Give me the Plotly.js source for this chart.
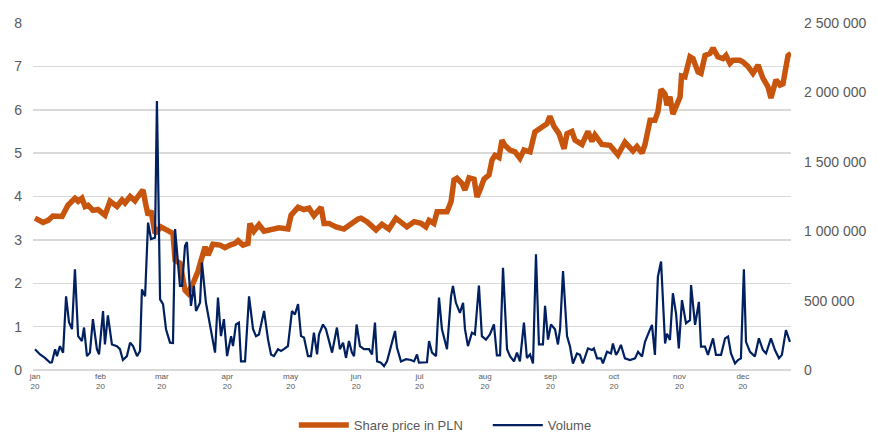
<!DOCTYPE html>
<html>
<head>
<meta charset="utf-8">
<script src="https://cdn.plot.ly/plotly-3.0.1.min.js"></script>
<style>html,body{margin:0;padding:0;background:#fff;}#chart{width:877px;height:432px;}</style>
</head>
<body>
<div id="chart"></div>
<script>
// Day of year 2020 (0 = 1 Jan) for each price reading
const priceDays = [0,3.8,6.2,8.5,12.8,15.6,18.9,20.4,22.2,23.7,25.1,27.4,29.8,33.1,35.5,38.8,41.2,42.6,45,47.3,48.7,51.1,52.5,53.5,54.9,56.8,59.6,62.9,65.3,66.3,68.6,71,72.4,74.8,77.1,78.6,80.5,81.9,84.2,87.6,89.9,92.3,94.7,96.1,98.4,100.8,101.7,103.6,106,108.4,112.6,115.5,119.7,121.2,124.5,127.3,129.7,132,135.4,136.8,139.1,142.5,146.2,150.5,152.9,154.3,157.1,161.4,164.2,167.5,170.8,176,179.4,182.7,185,186.5,188.8,190.3,195,196.9,198.3,199.7,202.1,203.5,205.4,207.8,209.2,210.6,212.5,214.9,216.3,217.7,219.6,221,222.4,224.8,227.2,229.5,231.4,234.3,236.6,240,242.3,243.7,245.6,248,250.4,251.8,254.1,255.6,258.9,261.7,263.6,265,268.3,272.1,275.9,279.2,283,284.9,287.3,288.7,291.1,293.4,294.8,296.3,298.2,299.1,300.5,301.9,303.8,305.3,306,307.6,310,311.4,313.8,315.2,317.1,319.5,320.9,323.2,325.6,327,328.9,330.3,333.6,335.1,337.4,339.8,342.2,344.5,346.9,348.3,350.7,352.6,354,356.4,357.8];
const sharePrice = [3.50,3.40,3.45,3.55,3.54,3.80,3.96,3.89,3.96,3.77,3.80,3.68,3.70,3.57,3.89,3.77,3.92,3.85,4.00,3.90,4.00,4.15,3.80,3.57,3.67,3.15,3.30,3.23,3.15,2.53,2.46,1.84,1.77,2.00,2.27,2.53,2.84,2.65,2.90,2.88,2.82,2.88,2.92,2.98,2.88,2.92,3.38,3.20,3.35,3.20,3.25,3.28,3.25,3.57,3.75,3.70,3.73,3.56,3.75,3.38,3.38,3.30,3.25,3.42,3.48,3.50,3.42,3.23,3.36,3.25,3.50,3.30,3.42,3.38,3.30,3.45,3.38,3.65,3.65,3.88,4.38,4.42,4.30,4.15,4.43,4.40,3.99,4.15,4.40,4.50,4.84,4.95,4.90,5.30,5.18,5.07,5.03,4.88,5.07,5.03,5.49,5.60,5.68,5.85,5.62,5.45,5.10,5.45,5.50,5.30,5.20,5.50,5.27,5.42,5.20,5.18,4.96,5.25,5.05,5.15,5.00,5.20,5.76,5.76,5.95,6.47,6.36,6.10,6.30,5.90,6.10,6.30,6.78,6.76,7.22,7.18,6.87,6.84,7.25,7.30,7.42,7.22,7.18,7.25,7.07,7.14,7.14,7.10,7.00,6.84,7.03,6.73,6.53,6.27,6.69,6.57,6.60,7.25,7.30];

// Day of year 2020 for each volume reading
const volumeDays = [0,2.4,4.7,7.1,8,9.5,10.4,11.8,13.3,14.7,16.1,17.5,18.9,20.4,22.2,23.2,24.6,26,27.4,29.3,30.3,32.2,33.1,34.5,36.4,38.8,40.2,41.6,43.5,45,46.4,48.3,49.7,50.6,52.1,53.5,54.9,56.8,57.7,59.2,60.6,62,63.9,65.3,66.3,68.6,69.6,71,71.9,73.8,75.2,76.2,78.1,79,80.9,83.3,85.2,86.6,88,89.4,90.9,92.8,93.7,95.1,96.5,97.5,99.4,101.3,103.2,104.6,106,108.4,110.3,111.7,113.1,115,116.4,117.8,119.7,121.6,123,124.5,125.9,127.3,129.2,130.6,132,133.5,134.4,136.3,137.7,140.6,142.9,144.3,145.8,147.2,148.6,150,151,152.2,153.8,155.7,158.1,159.5,160.9,161.9,163.7,165.2,166.6,168.5,170.4,171.3,173.2,175.6,177.9,179.4,180.8,181.7,184.1,185.5,186.5,187.9,189.8,191.2,192.6,195,196.9,197.8,199.2,201.1,202.6,203.5,204.9,206.8,208.2,210.1,211.5,213.4,215.3,217.2,218.6,220.1,221.5,223.4,224.8,226.7,228.1,229.5,231.4,232.8,234.3,235.7,237.1,238.5,240.4,241.4,242.8,244.2,246.1,247.5,248.5,249.9,251.8,253.2,254.6,256.5,257.9,259.3,261.7,263.6,264.5,266,267.9,268.8,270.7,272.6,273.5,275,275.9,277.3,279.2,281.6,284,285.4,287.3,288.7,290.6,292,293.4,294.8,296.3,298.2,299.1,300.5,301.9,303.4,304.7,306.2,308.1,310,310.5,312.4,314.2,315.2,317.1,318.5,320.9,322.3,324.7,326.6,328,329.4,331.3,332.7,334.1,335.5,336.5,338.4,340.7,342.6,344.5,346,348.3,350.2,352.1,353.5,355.4,357.3];
const volume = [150000,112000,87000,53000,56000,150000,100000,172000,125000,531000,344000,294000,725000,244000,209000,306000,100000,125000,366000,150000,112000,425000,184000,394000,184000,172000,150000,72000,100000,197000,172000,100000,137000,581000,531000,1062000,944000,953000,1937000,509000,475000,294000,197000,194000,1016000,606000,606000,894000,922000,462000,606000,425000,484000,775000,484000,294000,125000,522000,244000,366000,100000,244000,172000,328000,341000,62000,62000,531000,294000,244000,256000,425000,219000,112000,100000,150000,137000,150000,172000,425000,400000,475000,244000,234000,100000,100000,269000,112000,256000,328000,294000,125000,306000,150000,197000,87000,209000,125000,100000,328000,172000,150000,150000,112000,341000,62000,53000,28000,62000,172000,281000,162000,62000,78000,72000,62000,112000,53000,56000,56000,209000,125000,100000,522000,294000,150000,531000,606000,484000,412000,484000,294000,172000,269000,256000,609000,244000,219000,256000,328000,106000,106000,737000,150000,100000,62000,125000,62000,341000,87000,112000,47000,834000,184000,184000,462000,219000,328000,294000,184000,294000,712000,244000,169000,47000,119000,109000,47000,156000,144000,156000,84000,84000,47000,131000,119000,191000,109000,131000,181000,84000,72000,84000,131000,97000,203000,275000,325000,109000,672000,781000,191000,262000,216000,553000,406000,156000,503000,337000,359000,612000,325000,491000,169000,169000,109000,228000,109000,109000,228000,241000,119000,47000,72000,84000,725000,203000,131000,97000,228000,144000,119000,228000,144000,84000,109000,287000,203000];

// Axis tick labels
const monthTickDays = [0,31,60,91,121,152,182,213,244,274,305,335];
const monthTickText = ['jan<br>20','feb<br>20','mar<br>20','apr<br>20','may<br>20','jun<br>20','jul<br>20','aug<br>20','sep<br>20','oct<br>20','nov<br>20','dec<br>20'];
const priceTicks = [0,1,2,3,4,5,6,7,8];
const volumeTicks = [0,500000,1000000,1500000,2000000,2500000];
const volumeTickText = ['0','500 000','1 000 000','1 500 000','2 000 000','2 500 000'];

const grey = '#595959';
const traces = [
  {x: priceDays, y: sharePrice, name: 'Share price in PLN', type: 'scatter', mode: 'lines',
   line: {color: '#C8550E', width: 5.5}, yaxis: 'y'},
  {x: volumeDays, y: volume, name: 'Volume', type: 'scatter', mode: 'lines',
   line: {color: '#002060', width: 2.2}, yaxis: 'y2'}
];
const layout = {
  width: 877, height: 432,
  margin: {l: 33, r: 86, t: 23, b: 62, autoexpand: false},
  paper_bgcolor: '#ffffff', plot_bgcolor: '#ffffff',
  font: {family: 'Liberation Sans, Arial, sans-serif', color: grey},
  showlegend: true,
  legend: {orientation: 'h', x: 0.335, xanchor: 'left', xref: 'container',
           y: 0.016, yanchor: 'middle', yref: 'container',
           font: {size: 13, color: grey}, itemwidth: 50, entrywidth: 129},
  xaxis: {range: [-0.95, 357.8], tickmode: 'array', tickvals: monthTickDays, ticktext: monthTickText,
          tickfont: {size: 8, color: grey}, showgrid: false, zeroline: false,
          showline: false, ticks: '', fixedrange: true, automargin: false},
  yaxis: {range: [0, 8], tickmode: 'array', tickvals: priceTicks,
          tickfont: {size: 14, color: grey}, gridcolor: '#d9d9d9', gridwidth: 1.5,
          zeroline: true, zerolinecolor: '#d9d9d9', zerolinewidth: 2,
          showline: false, ticks: '', ticklabelstandoff: 10, automargin: false},
  yaxis2: {range: [0, 2500000], overlaying: 'y', side: 'right', tickmode: 'array',
           tickvals: volumeTicks, ticktext: volumeTickText, tickfont: {size: 14, color: grey},
           showgrid: false, zeroline: false, showline: false, ticks: '', ticklabelstandoff: 12,
           automargin: false}
};
Plotly.newPlot('chart', traces, layout, {staticPlot: true, displayModeBar: false});
</script>
</body>
</html>
